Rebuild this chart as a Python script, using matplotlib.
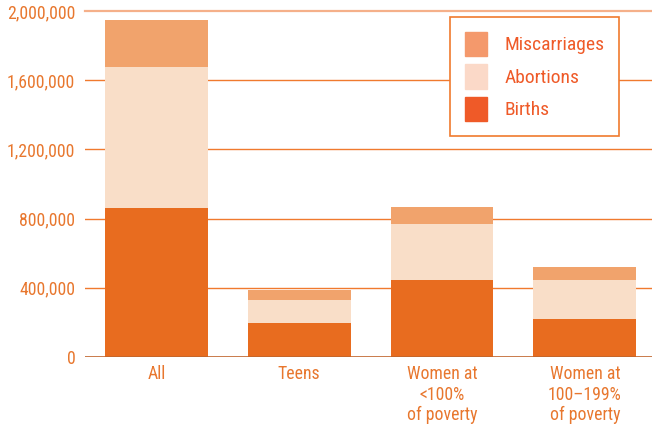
import numpy as np
import matplotlib.pyplot as plt
from matplotlib.patches import Patch
from matplotlib.ticker import FuncFormatter

# --- data ---
groups = ["All", "Teens", "Women at\n<100%\nof poverty", "Women at\n100\u2013199%\nof poverty"]
births = [861000, 197000, 445000, 220000]
abortions = [815000, 132000, 324000, 225000]
miscarriages = [272000, 58000, 98000, 75000]

# --- colours ---
TXT = "#E8772E"
C_BIRTH = "#E86C1F"
C_ABORT = "#F9DEC8"
C_MISC = "#F1A36C"

plt.rcParams['font.family'] = ['Roboto Condensed', 'DejaVu Sans']

fig = plt.figure(figsize=(6.52, 4.25), dpi=100)
ax = fig.add_axes([85 / 652, 68 / 425, 1 - 85 / 652, (357 - 11) / 425])

x = np.arange(len(groups))
w = 0.72
b = np.array(births)
a = np.array(abortions)
m = np.array(miscarriages)
ax.bar(x, b, w, color=C_BIRTH, zorder=3)
ax.bar(x, a, w, bottom=b, color=C_ABORT, zorder=3)
ax.bar(x, m, w, bottom=b + a, color=C_MISC, zorder=3)

ax.set_xlim(-0.5, 3.47)
ax.set_ylim(0, 2000000)
ax.set_yticks(np.arange(0, 2000001, 400000))
ax.yaxis.set_major_formatter(FuncFormatter(lambda v, p: f"{int(v):,}"))

# gridlines
for yv in [400000, 800000, 1200000, 1600000]:
    ax.axhline(yv, color="#F07A2E", lw=1.0, zorder=1)
ax.axhline(2000000, color="#F5B08A", lw=1.6, zorder=1, clip_on=False)
ax.axhline(0, color="#C0652C", lw=1.2, zorder=4)

for s in ax.spines.values():
    s.set_visible(False)
ax.tick_params(length=0, colors=TXT, labelsize=12.8)
ax.tick_params(axis='y', pad=7)
ax.tick_params(axis='x', pad=6)
ax.set_xticks(x)
ax.set_xticklabels(groups, linespacing=1.17, va='top')

handles = [Patch(color="#F4996C", label="Miscarriages"),
           Patch(color="#FBD9C8", label="Abortions"),
           Patch(color="#EF5A28", label="Births")]
leg = ax.legend(handles=handles, loc='upper left', bbox_to_anchor=(365 / 567, 0.982),
                frameon=True, fancybox=False, fontsize=14, labelcolor="#EF5A28",
                handlelength=1.15, handleheight=1.55, handletextpad=0.9,
                borderpad=0.75, labelspacing=0.42, borderaxespad=0)
leg.get_frame().set_edgecolor("#F07A2E")
leg.get_frame().set_linewidth(1.2)
leg.get_frame().set_facecolor("white")
leg.get_frame().set_alpha(1)
leg.set_zorder(5)

fig.savefig("out.png", dpi=100)
